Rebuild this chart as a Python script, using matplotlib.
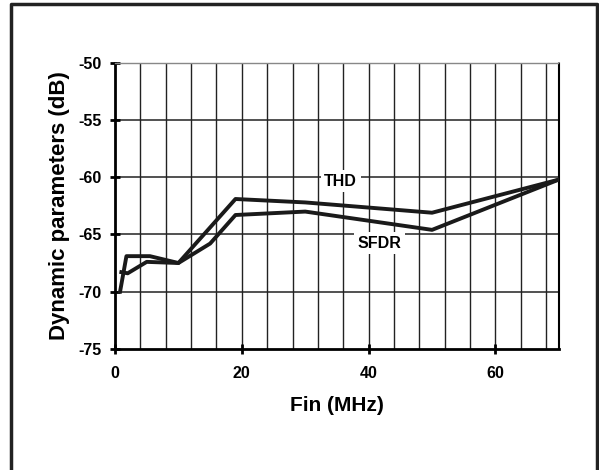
import matplotlib
matplotlib.use("Agg")
import matplotlib.pyplot as plt
from matplotlib.lines import Line2D

plt.rcParams['font.family'] = ['Liberation Sans', 'DejaVu Sans']
plt.rcParams['font.weight'] = 'bold'
plt.rcParams['axes.unicode_minus'] = False

# data
thd_f = [0.8, 1.8, 5.5, 10, 19, 30, 50, 70]
thd_db = [-70.0, -66.9, -66.9, -67.5, -61.9, -62.2, -63.1, -60.2]

sfdr_f = [1, 2, 5, 10, 15, 19, 30, 50, 70]
sfdr_db = [-68.3, -68.4, -67.4, -67.5, -65.8, -63.3, -63.0, -64.6, -60.2]

x_ticks = [0, 20, 40, 60]
y_ticks = [-75, -70, -65, -60, -55, -50]

fig = plt.figure(figsize=(5.99, 4.70), dpi=100)
ax = fig.add_axes([0.192, 0.258, 0.741, 0.608])

# vertical grid every 4 MHz, horizontal every 5 dB
for xv in range(4, 70, 4):
    ax.axvline(xv, color='#222222', lw=1.0, zorder=1)
for yv in [-70, -65, -60, -55]:
    ax.axhline(yv, color='#222222', lw=1.1, zorder=1)

ax.plot(thd_f, thd_db, color='#1a1a1a', lw=2.8, zorder=3)
ax.plot(sfdr_f, sfdr_db, color='#1a1a1a', lw=2.8, zorder=3)

ax.text(35.6, -60.35, 'THD', ha='center', va='center', fontsize=11.5,
        fontweight='bold', zorder=4,
        bbox=dict(facecolor='white', edgecolor='none', pad=2.5))
ax.text(41.7, -65.75, 'SFDR', ha='center', va='center', fontsize=11.5,
        fontweight='bold', zorder=4,
        bbox=dict(facecolor='white', edgecolor='none', pad=2.5))

ax.set_xlim(0, 70)
ax.set_ylim(-75, -50)
ax.set_xticks(x_ticks)
ax.set_yticks(y_ticks)
ax.tick_params(axis='both', direction='inout', length=7, width=2,
               labelsize=11.5)
ax.tick_params(axis='x', pad=9)
ax.tick_params(axis='y', pad=6)
for lab in ax.get_xticklabels() + ax.get_yticklabels():
    lab.set_family(['Liberation Sans Narrow', 'Liberation Sans'])
    lab.set_fontweight('bold')

ax.spines['left'].set_linewidth(2)
ax.spines['bottom'].set_linewidth(2)
ax.spines['top'].set_linestyle((0, (1, 1)))
ax.spines['top'].set_color('#888888')
ax.spines['top'].set_linewidth(1)
ax.spines['right'].set_linestyle((0, (1, 1)))
ax.spines['right'].set_linewidth(1.5)

ax.set_xlabel('Fin (MHz)', fontsize=15, fontweight='bold', labelpad=11)
ax.set_ylabel('Dynamic parameters (dB)', fontsize=16, fontweight='bold',
              labelpad=6)

# figure frame (left, top, right)
fx = [11 / 599, 11 / 599, 597 / 599, 597 / 599]
fy = [0.0, 1 - 4 / 470, 1 - 4 / 470, 0.0]
fig.add_artist(Line2D(fx, fy, transform=fig.transFigure, color='#222222',
                      lw=2.5))

fig.savefig('out.png', dpi=100)
